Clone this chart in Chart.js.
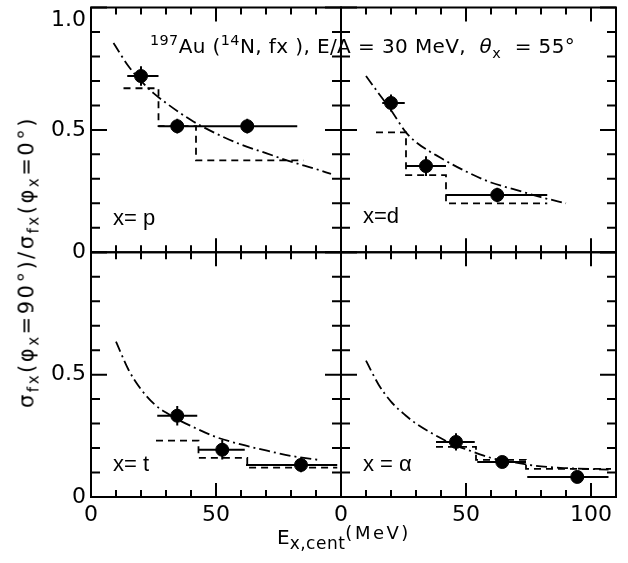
<!DOCTYPE html>
<html>
<head>
<meta charset="utf-8">
<script src="https://cdn.jsdelivr.net/npm/chart.js@4.4.1/dist/chart.umd.min.js"></script>
<style>
    body { margin: 0; background: #fff; }
    #wrap { position: relative; width: 628px; height: 563px; font-family: "DejaVu Sans", sans-serif; color: #000; }
    #chart { position: absolute; left: 0; top: 0; }
    .lbl { position: absolute; white-space: nowrap; line-height: 1; }
    .lbl sub, .lbl sup { font-size: 0.72em; line-height: 0; }
    #title { left: 150px; top: 36px; font-size: 20px; letter-spacing: 0.4px; }
    #ylabel { left: 27px; top: 262px; font-size: 21px; letter-spacing: 2.5px; transform: translate(-50%, -50%) rotate(-90deg); }
    #xlabel { left: 277px; top: 524px; font-size: 20px; }
    #xlabel sub { font-size: 17px; letter-spacing: 0.5px; }
    #xlabel .unit { font-size: 18px; letter-spacing: 2.5px; vertical-align: 5px; }
    .panel { font-family: "Liberation Sans", Arial, sans-serif; font-size: 22px; }
</style>
</head>
<body>
<div id="wrap">
    <canvas id="chart" width="628" height="563"></canvas>
    <div class="lbl" id="title"><sup>197</sup>Au (<sup>14</sup>N, fx ), E/A = 30 MeV,&nbsp; <i>&theta;</i><sub>x</sub>&nbsp; = 55°</div>
    <div class="lbl" id="ylabel">&sigma;<sub>fx</sub>(&phi;<sub>x</sub>=90°)/&sigma;<sub>fx</sub>(&phi;<sub>x</sub>=0°)</div>
    <div class="lbl" id="xlabel">E<sub>x,cent</sub><span class="unit">(MeV)</span></div>
    <div class="lbl panel" style="left:113px; top:207px;">x= p</div>
    <div class="lbl panel" style="left:363px; top:205px;">x=d</div>
    <div class="lbl panel" style="left:113px; top:453px;">x= t</div>
    <div class="lbl panel" style="left:363px; top:453px;">x = &alpha;</div>
</div>
<script>
// x = p (top left)
const pX = [20, 34.5, 62.5];
const pY = [0.72, 0.515, 0.515];
const pXLo = [14.5, 27, 42.5];
const pXHi = [27, 42.5, 82.5];
const pYErr = [0.04, 0.03, 0.03];
const pStepEdges = [13, 27, 42, 85];
const pStepVals = [0.67, 0.515, 0.375];
const pCurveX = [9, 15, 20, 25, 30, 40, 50, 60, 70, 80, 90, 96];
const pCurveY = [0.855, 0.76, 0.70, 0.65, 0.61, 0.54, 0.485, 0.44, 0.405, 0.37, 0.34, 0.32];

// x = d (top right)
const dX = [20, 34, 62.5];
const dY = [0.61, 0.352, 0.234];
const dXLo = [16.5, 26, 42];
const dXHi = [25.5, 42, 82.5];
const dYErr = [0.035, 0.04, 0.03];
const dStepEdges = [14, 26, 42, 82.5];
const dStepVals = [0.49, 0.315, 0.2];
const dCurveX = [10, 15, 20, 26, 30, 40, 50, 60, 70, 80, 90];
const dCurveY = [0.72, 0.65, 0.58, 0.49, 0.45, 0.385, 0.33, 0.285, 0.255, 0.225, 0.2];

// x = t (bottom left)
const tX = [34.5, 52.5, 84];
const tY = [0.332, 0.193, 0.131];
const tXLo = [26.5, 43, 62];
const tXHi = [42.5, 61.5, 98.5];
const tYErr = [0.04, 0.04, 0.03];
const tStepEdges = [26, 43, 62.5, 98.5];
const tStepVals = [0.23, 0.16, 0.12];
const tCurveX = [10, 15, 20, 26, 30, 35, 40, 50, 60, 70, 80, 92];
const tCurveY = [0.635, 0.52, 0.44, 0.373, 0.345, 0.315, 0.29, 0.245, 0.215, 0.19, 0.168, 0.15];

// x = alpha (bottom right)
const aX = [46, 64.5, 94.5];
const aY = [0.225, 0.143, 0.082];
const aXLo = [38, 54.5, 74.5];
const aXHi = [53.5, 74, 107];
const aYErr = [0.035, 0.02, 0.015];
const aStepEdges = [38, 54, 74, 108];
const aStepVals = [0.205, 0.152, 0.115];
const aCurveX = [10, 15, 20, 26, 30, 40, 46, 50, 60, 70, 80, 90, 107];
const aCurveY = [0.557, 0.46, 0.39, 0.332, 0.3, 0.24, 0.209, 0.195, 0.16, 0.14, 0.125, 0.118, 0.112];

// axis ticks
const yTopLabels = [0, 0.5, 1];
const yBottomLabels = [0, 0.5];
const xLeftLabels = [0, 50];
const xRightLabels = [0, 50, 100];

const FONT = '"DejaVu Sans", sans-serif';

function toPoints (xs, ys) {
    return xs.map((x, i) => ({x, y: ys[i]}));
}

function stepPoints (edges, vals) {
    return edges.map((e, i) => ({x: e, y: vals[Math.min(i, vals.length - 1)]}));
}

function errorBarPoints (xs, ys, lo, hi, err) {
    const pts = [];
    xs.forEach((x, i) => {
        pts.push({x: lo[i], y: ys[i]}, {x: hi[i], y: ys[i]}, {x: hi[i], y: null});
        pts.push({x, y: ys[i] - err[i]}, {x, y: ys[i] + err[i]}, {x, y: null});
    });
    return pts;
}

function panelDatasets (xAxisID, yAxisID, d) {
    return [
        {
            data: toPoints(d.curveX, d.curveY),
            showLine: true,
            cubicInterpolationMode: 'monotone',
            borderColor: '#000',
            borderWidth: 1.8,
            borderDash: [11, 4, 2, 4],
            pointRadius: 0,
            xAxisID, yAxisID
        },
        {
            data: stepPoints(d.edges, d.vals),
            showLine: true,
            stepped: 'before',
            borderColor: '#000',
            borderWidth: 1.8,
            borderDash: [7, 5],
            pointRadius: 0,
            xAxisID, yAxisID
        },
        {
            data: errorBarPoints(d.x, d.y, d.lo, d.hi, d.err),
            showLine: true,
            spanGaps: false,
            borderColor: '#000',
            borderWidth: 2,
            pointRadius: 0,
            xAxisID, yAxisID
        },
        {
            data: toPoints(d.x, d.y),
            showLine: false,
            pointRadius: 6.5,
            pointBackgroundColor: '#000',
            pointBorderColor: '#000',
            xAxisID, yAxisID
        }
    ];
}

const datasets = [
    ...panelDatasets('xL', 'yT', {x: pX, y: pY, lo: pXLo, hi: pXHi, err: pYErr, edges: pStepEdges, vals: pStepVals, curveX: pCurveX, curveY: pCurveY}),
    ...panelDatasets('xR', 'yT', {x: dX, y: dY, lo: dXLo, hi: dXHi, err: dYErr, edges: dStepEdges, vals: dStepVals, curveX: dCurveX, curveY: dCurveY}),
    ...panelDatasets('xL', 'yB', {x: tX, y: tY, lo: tXLo, hi: tXHi, err: tYErr, edges: tStepEdges, vals: tStepVals, curveX: tCurveX, curveY: tCurveY}),
    ...panelDatasets('xR', 'yB', {x: aX, y: aY, lo: aXLo, hi: aXHi, err: aYErr, edges: aStepEdges, vals: aStepVals, curveX: aCurveX, curveY: aCurveY})
];

function has (list, v) {
    return list.some(l => Math.abs(l - v) < 1e-6);
}

function yAxis (labels, weight) {
    return {
        type: 'linear',
        position: 'left',
        stack: 'v',
        stackWeight: 1,
        weight,
        min: 0,
        max: 1,
        grid: {display: false, drawTicks: false},
        border: {display: false},
        ticks: {
            stepSize: 0.1,
            autoSkip: false,
            padding: 5,
            color: '#000',
            font: {family: FONT, size: 22},
            callback: v => {
                if (!has(labels, v)) return '';
                if (Math.abs(v - 1) < 1e-6) return ['', '1.0'];
                return Math.abs(v) < 1e-6 ? '0' : '0.5';
            }
        },
        afterFit: s => {
            s.width = 91;
            s.paddingTop = 0;
            s.paddingBottom = 0;
        }
    };
}

function xAxis (labels, max, weight) {
    return {
        type: 'linear',
        position: 'bottom',
        stack: 'h',
        stackWeight: max,
        weight,
        min: 0,
        max,
        grid: {display: false, drawTicks: false},
        border: {display: false},
        ticks: {
            stepSize: 10,
            autoSkip: false,
            maxRotation: 0,
            padding: 5,
            color: '#000',
            font: {family: FONT, size: 22},
            callback: v => has(labels, v) ? String(v) : ''
        },
        afterFit: s => {
            s.height = 66;
            s.paddingLeft = 0;
            s.paddingRight = 0;
        }
    };
}

const panels = [['xL', 'yT'], ['xR', 'yT'], ['xL', 'yB'], ['xR', 'yB']];

const frameTicks = {
    id: 'frameTicks',
    afterDatasetsDraw (chart) {
        const ctx = chart.ctx;
        ctx.save();
        ctx.strokeStyle = '#000';
        ctx.lineWidth = 2;
        panels.forEach(([xi, yi]) => {
            const xs = chart.scales[xi];
            const ys = chart.scales[yi];
            ctx.strokeRect(xs.left, ys.top, xs.right - xs.left, ys.bottom - ys.top);
            ctx.beginPath();
            xs.ticks.forEach(t => {
                const px = xs.getPixelForValue(t.value);
                const len = Math.abs(t.value % 50) < 1e-6 ? 14 : 7;
                ctx.moveTo(px, ys.bottom);
                ctx.lineTo(px, ys.bottom - len);
                ctx.moveTo(px, ys.top);
                ctx.lineTo(px, ys.top + len);
            });
            ys.ticks.forEach(t => {
                const py = ys.getPixelForValue(t.value);
                const major = Math.abs(t.value * 2 - Math.round(t.value * 2)) < 1e-6;
                const len = major ? 16 : 9;
                ctx.moveTo(xs.left, py);
                ctx.lineTo(xs.left + len, py);
                ctx.moveTo(xs.right, py);
                ctx.lineTo(xs.right - len, py);
            });
            ctx.stroke();
        });
        ctx.restore();
    }
};

new Chart(document.getElementById('chart'), {
    type: 'scatter',
    data: {datasets},
    plugins: [frameTicks],
    options: {
        responsive: false,
        animation: false,
        devicePixelRatio: 1,
        layout: {padding: {top: 7, right: 12, left: 0, bottom: 0}},
        plugins: {
            legend: {display: false},
            tooltip: {enabled: false}
        },
        scales: {
            xL: xAxis(xLeftLabels, 100, 1),
            xR: xAxis(xRightLabels, 110, 2),
            yT: yAxis(yTopLabels, 2),
            yB: yAxis(yBottomLabels, 1)
        }
    }
});
</script>
</body>
</html>
